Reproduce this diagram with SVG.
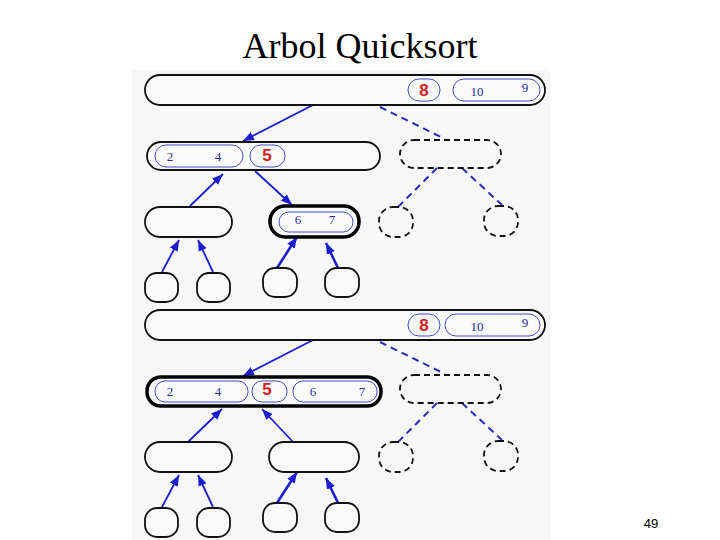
<svg xmlns="http://www.w3.org/2000/svg" width="720" height="540" viewBox="0 0 720 540">
<style>
.bg{fill:#f7f7f7}
.node{fill:#fafafa;stroke:#111;stroke-width:1.8}
.bold{fill:#fafafa;stroke:#000;stroke-width:3.5}
.dnode{fill:none;stroke:#111;stroke-width:1.8;stroke-dasharray:6 4}
.pill{fill:none;stroke:#4a4ac8;stroke-width:1}
.num{font-family:"Liberation Serif",serif;font-size:13px;fill:#2a2a9a;text-anchor:middle}
.piv{font-family:"Liberation Sans",sans-serif;font-size:17px;font-weight:bold;fill:#d21e1e;text-anchor:middle}
.arr{stroke:#1c1cd0;stroke-width:1.8;fill:none;marker-end:url(#ah)}
.arrb{stroke:#1c1cd0;stroke-width:2.6;fill:none;marker-end:url(#ah)}
.dash{stroke:#2a2ab8;stroke-width:2;fill:none;stroke-dasharray:7 5}
</style>
<defs>
<marker id="ah" viewBox="0 0 10 8" refX="10" refY="4" markerWidth="11" markerHeight="9" markerUnits="userSpaceOnUse" orient="auto">
<path d="M0,0 L10,4 L0,8 Z" fill="#1c1cd0"/>
</marker>
</defs>
<rect x="0" y="0" width="720" height="540" fill="#fff"/>
<rect class="bg" x="132" y="70" width="418" height="470"/>
<text x="360" y="58" font-family="Liberation Serif,serif" font-size="36" text-anchor="middle" fill="#000">Arbol Quicksort</text>
<text x="651" y="528" font-family="Liberation Sans,sans-serif" font-size="13" text-anchor="middle" fill="#000">49</text>

<g id="connectors">
<!-- panel 1 -->
<line class="arr" x1="313" y1="105" x2="243" y2="141"/>
<line class="dash" x1="380" y1="107" x2="445" y2="139"/>
<line class="arr" x1="190" y1="206" x2="223" y2="174"/>
<line class="arr" x1="255" y1="171" x2="292" y2="205"/>
<line class="dash" x1="437" y1="168" x2="398" y2="207"/>
<line class="dash" x1="462" y1="168" x2="502" y2="205"/>
<line class="arr" x1="162" y1="272" x2="179" y2="240"/>
<line class="arr" x1="213" y1="272" x2="198" y2="240"/>
<line class="arrb" x1="277" y1="268" x2="297" y2="237"/>
<line class="arrb" x1="338" y1="268" x2="326" y2="243"/>
<!-- panel 2 -->
<line class="arr" x1="313" y1="340" x2="243" y2="376"/>
<line class="dash" x1="380" y1="342" x2="445" y2="374"/>
<line class="arr" x1="188" y1="442" x2="222" y2="409"/>
<line class="arr" x1="293" y1="442" x2="262" y2="409"/>
<line class="dash" x1="437" y1="403" x2="398" y2="442"/>
<line class="dash" x1="462" y1="403" x2="502" y2="440"/>
<line class="arr" x1="162" y1="507" x2="179" y2="475"/>
<line class="arr" x1="213" y1="507" x2="198" y2="475"/>
<line class="arrb" x1="277" y1="503" x2="297" y2="472"/>
<line class="arrb" x1="338" y1="503" x2="326" y2="478"/>
</g>

<!-- Panel 1 nodes -->
<g id="p1-root">
<rect class="node" x="145" y="75" width="400" height="30" rx="15"/>
<rect class="pill" x="408" y="79" width="32" height="22" rx="11"/>
<text class="piv" x="424" y="96">8</text>
<rect class="pill" x="453" y="79" width="87" height="22" rx="11"/>
<text class="num" x="477" y="96">10</text>
<text class="num" x="525" y="92">9</text>
</g>
<g id="p1-left">
<rect class="node" x="147" y="142" width="233" height="28" rx="14"/>
<rect class="pill" x="155" y="145" width="88" height="22" rx="11"/>
<text class="num" x="170" y="161">2</text>
<text class="num" x="218" y="161">4</text>
<rect class="pill" x="250" y="145" width="35" height="22" rx="11"/>
<text class="piv" x="267" y="161">5</text>
</g>
<g id="p1-right">
<rect class="dnode" x="400" y="140" width="101" height="28" rx="14"/>
</g>
<g id="p1-ll">
<rect class="node" x="145" y="207" width="87" height="30" rx="15"/>
</g>
<g id="p1-lr">
<rect class="bold" x="270" y="206" width="89" height="31" rx="15"/>
<rect class="pill" x="279" y="212" width="74" height="20" rx="10"/>
<text class="num" x="298" y="224">6</text>
<text class="num" x="332" y="224">7</text>
</g>
<g id="p1-rl"><rect class="dnode" x="379" y="207" width="34" height="30" rx="14"/></g>
<g id="p1-rr"><rect class="dnode" x="484" y="206" width="34" height="30" rx="14"/></g>
<g id="p1-leaf1"><rect class="node" x="145" y="273" width="33" height="29" rx="12"/></g>
<g id="p1-leaf2"><rect class="node" x="197" y="273" width="33" height="29" rx="12"/></g>
<g id="p1-leaf3"><rect class="node" x="263" y="268" width="34" height="29" rx="12"/></g>
<g id="p1-leaf4"><rect class="node" x="325" y="268" width="34" height="29" rx="12"/></g>

<!-- Panel 2 nodes -->
<g id="p2-root">
<rect class="node" x="145" y="310" width="400" height="30" rx="15"/>
<rect class="pill" x="408" y="314" width="32" height="22" rx="11"/>
<text class="piv" x="424" y="331">8</text>
<rect class="pill" x="445" y="314" width="95" height="22" rx="11"/>
<text class="num" x="477" y="331">10</text>
<text class="num" x="525" y="327">9</text>
</g>
<g id="p2-left">
<rect class="bold" x="147" y="377" width="234" height="29" rx="14"/>
<rect class="pill" x="155" y="381" width="93" height="21" rx="10"/>
<text class="num" x="170" y="396">2</text>
<text class="num" x="218" y="396">4</text>
<rect class="pill" x="252" y="381" width="35" height="21" rx="10"/>
<text class="piv" x="267" y="395">5</text>
<rect class="pill" x="293" y="381" width="84" height="21" rx="10"/>
<text class="num" x="313" y="396">6</text>
<text class="num" x="362" y="396">7</text>
</g>
<g id="p2-right">
<rect class="dnode" x="400" y="375" width="101" height="28" rx="14"/>
</g>
<g id="p2-ll"><rect class="node" x="145" y="442" width="87" height="30" rx="15"/></g>
<g id="p2-lr"><rect class="node" x="269" y="442" width="90" height="30" rx="15"/></g>
<g id="p2-rl"><rect class="dnode" x="379" y="442" width="34" height="30" rx="14"/></g>
<g id="p2-rr"><rect class="dnode" x="484" y="441" width="34" height="30" rx="14"/></g>
<g id="p2-leaf1"><rect class="node" x="145" y="508" width="33" height="29" rx="12"/></g>
<g id="p2-leaf2"><rect class="node" x="197" y="508" width="33" height="29" rx="12"/></g>
<g id="p2-leaf3"><rect class="node" x="263" y="503" width="34" height="29" rx="12"/></g>
<g id="p2-leaf4"><rect class="node" x="325" y="503" width="34" height="29" rx="12"/></g>
</svg>
